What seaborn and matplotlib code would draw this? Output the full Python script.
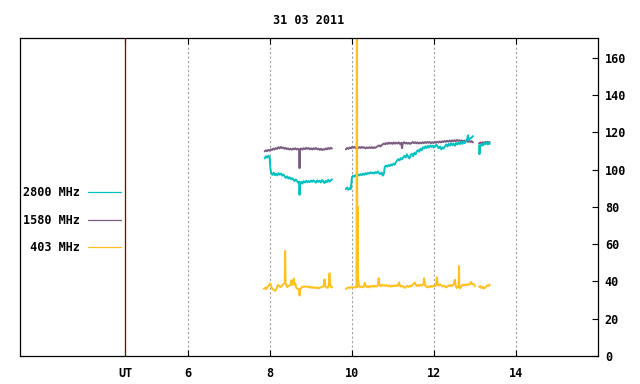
import numpy as np
import pandas as pd
import matplotlib
matplotlib.use("Agg")
import matplotlib.pyplot as plt
from matplotlib.lines import Line2D
import seaborn as sns

# ---- data (hours UT / flux), None marks a gap in the record ----
TITLE = "31 03 2011"

hours_2800 = [
    7.87, 7.90, 7.93, 7.96, 7.99, 8.01, 8.03, 8.06, 8.09, 8.12, 8.15, 8.18, 8.21, 8.24, 8.27,
    8.30, 8.33, 8.36, 8.39, 8.42, 8.45, 8.48, 8.51, 8.54, 8.57, 8.60, 8.63, 8.66, 8.69, 8.71,
    8.72, 8.73, 8.76, 8.79, 8.82, 8.85, 8.88, 8.91, 8.94, 8.97, 9.00, 9.03, 9.06, 9.09, 9.12,
    9.15, 9.18, 9.21, 9.24, 9.27, 9.30, 9.33, 9.36, 9.39, 9.42, 9.45, 9.48, 9.51,
    None,
    9.85, 9.88, 9.91, 9.94, 9.97, 10.00, 10.03, 10.06, 10.09, 10.12, 10.15, 10.18, 10.21, 10.24,
    10.27, 10.30, 10.33, 10.36, 10.39, 10.42, 10.45, 10.48, 10.51, 10.54, 10.57, 10.60, 10.63,
    10.66, 10.69, 10.72, 10.75, 10.78, 10.80, 10.83, 10.86, 10.89, 10.92, 10.95, 10.98, 11.01,
    11.04, 11.07, 11.10, 11.13, 11.16, 11.19, 11.22, 11.25, 11.28, 11.31, 11.34, 11.37, 11.40,
    11.43, 11.46, 11.49, 11.52, 11.55, 11.58, 11.61, 11.64, 11.67, 11.70, 11.73, 11.76, 11.79,
    11.82, 11.85, 11.88, 11.91, 11.94, 11.97, 12.00, 12.03, 12.06, 12.09, 12.12, 12.15, 12.18,
    12.21, 12.24, 12.27, 12.30, 12.33, 12.36, 12.39, 12.42, 12.45, 12.48, 12.51, 12.54, 12.57,
    12.60, 12.63, 12.66, 12.69, 12.72, 12.75, 12.78, 12.81, 12.83, 12.85, 12.88, 12.92, 12.95,
    None,
    13.10, 13.11, 13.13, 13.16, 13.19, 13.22, 13.25, 13.28, 13.31, 13.34, 13.36,
]
flux_2800 = [
    106.0, 107.2, 106.4, 107.5, 106.8, 100.5, 98.0, 97.2, 98.4, 97.0, 97.8, 96.9, 98.1, 97.3, 97.9,
    96.8, 97.4, 96.2, 95.6, 96.4, 95.2, 95.9, 94.8, 95.5, 94.6, 93.9, 94.7, 93.8, 92.9, 93.6,
    86.5, 92.8, 93.4, 92.5, 93.8, 93.1, 94.0, 93.2, 93.9, 93.3, 94.1, 93.5, 94.3, 93.6, 93.0,
    94.2, 93.4, 94.0, 93.1, 94.4, 93.6, 92.8, 94.0, 93.3, 94.6, 93.5, 94.2, 94.8,
    None,
    89.5, 90.4, 89.2, 90.1, 89.6, 96.0, 96.8, 96.2, 97.1, 96.5, 97.4, 96.9, 97.6, 97.0,
    97.9, 97.2, 98.1, 97.5, 98.3, 97.8, 98.6, 98.0, 98.4, 97.9, 98.7, 98.2, 99.0,
    98.1, 97.6, 98.5, 96.8, 97.9, 101.5, 102.2, 101.6, 102.5, 101.9, 102.8, 102.3, 103.2,
    102.6, 104.0, 104.8, 105.6, 104.9, 106.2, 105.5, 106.6, 107.4, 106.5, 108.2, 107.0, 106.0,
    107.8, 108.5, 107.2, 109.0, 108.2, 109.8, 110.5, 109.6, 111.2, 110.4, 112.0, 111.3, 112.5,
    111.6, 112.8, 111.9, 113.0, 112.2, 112.9, 111.8, 112.6, 113.4, 112.3, 111.5, 112.4, 110.8,
    112.0, 111.3, 112.6, 113.5, 112.4, 113.8, 112.9, 114.2, 113.1, 113.9, 112.8, 114.3, 113.5,
    114.6, 113.7, 114.9, 113.8, 115.0, 114.2, 115.6, 116.4, 118.4, 115.8, 116.6, 117.2, 118.0,
    None,
    113.0, 108.3, 112.5, 113.8, 112.9, 114.3, 113.5, 114.6, 113.6, 114.4, 113.8,
]

hours_1580 = [
    7.87, 7.90, 7.93, 7.96, 7.99, 8.02, 8.05, 8.08, 8.11, 8.14, 8.17, 8.20, 8.23, 8.26, 8.29,
    8.32, 8.35, 8.38, 8.41, 8.44, 8.47, 8.50, 8.53, 8.56, 8.59, 8.62, 8.65, 8.68, 8.71, 8.72,
    8.73, 8.76, 8.79, 8.82, 8.85, 8.88, 8.91, 8.94, 8.97, 9.00, 9.03, 9.06, 9.09, 9.12, 9.15,
    9.18, 9.21, 9.24, 9.27, 9.30, 9.33, 9.36, 9.39, 9.42, 9.45, 9.48, 9.51,
    None,
    9.85, 9.88, 9.91, 9.94, 9.97, 10.00, 10.03, 10.06, 10.09, 10.12, 10.15, 10.18, 10.21, 10.24,
    10.27, 10.30, 10.33, 10.36, 10.39, 10.42, 10.45, 10.48, 10.51, 10.54, 10.57, 10.60, 10.63,
    10.66, 10.69, 10.72, 10.75, 10.78, 10.81, 10.84, 10.87, 10.90, 10.93, 10.96, 10.99, 11.02,
    11.05, 11.08, 11.11, 11.14, 11.17, 11.20, 11.22, 11.24, 11.27, 11.30, 11.33, 11.36, 11.39,
    11.42, 11.45, 11.48, 11.51, 11.54, 11.57, 11.60, 11.63, 11.66, 11.69, 11.72, 11.75, 11.78,
    11.81, 11.84, 11.87, 11.90, 11.93, 11.96, 11.99, 12.02, 12.05, 12.08, 12.11, 12.14, 12.17,
    12.20, 12.23, 12.26, 12.29, 12.32, 12.35, 12.38, 12.41, 12.44, 12.47, 12.50, 12.53, 12.56,
    12.59, 12.62, 12.65, 12.68, 12.71, 12.74, 12.77, 12.80, 12.83, 12.86, 12.89, 12.92, 12.95,
    None,
    13.10, 13.13, 13.16, 13.19, 13.22, 13.25, 13.28, 13.31, 13.34, 13.36,
]
flux_1580 = [
    109.8, 110.4, 109.9, 110.6, 110.2, 110.9, 110.5, 111.3, 110.8, 111.6, 111.1, 112.0, 111.4, 112.2, 111.5,
    111.9, 111.2, 111.7, 111.0, 111.4, 110.8, 111.2, 110.7, 111.3, 110.9, 111.5, 110.8, 111.2, 110.6, 100.8,
    110.9, 111.4, 110.7, 111.5, 111.0, 111.7, 111.1, 111.6, 110.9, 111.4, 110.8, 111.5, 111.0, 111.6, 110.9,
    111.3, 110.6, 111.2, 110.5, 111.0, 110.7, 111.4, 110.9, 111.6, 111.1, 111.7, 111.3,
    None,
    110.9, 111.6, 111.2, 111.9, 111.4, 112.1, 111.7, 112.2, 111.6, 112.0, 111.5, 112.1, 111.6, 112.2,
    111.7, 112.0, 111.4, 111.9, 111.5, 112.0, 111.6, 112.1, 111.5, 112.0, 111.7, 112.2, 112.6,
    113.0, 112.4, 113.1, 113.6, 114.0, 113.6, 114.3, 113.8, 114.5, 113.9, 114.4, 113.8, 114.6,
    113.9, 114.5, 114.0, 114.6, 113.8, 114.4, 111.5, 114.2, 114.7, 114.0, 114.5, 113.9, 114.4,
    113.8, 114.3, 114.8, 114.2, 114.7, 114.1, 114.6, 114.0, 114.5, 114.1, 114.7, 114.2, 114.8,
    114.3, 114.9, 114.4, 114.8, 114.2, 114.7, 114.3, 114.9, 114.4, 115.0, 114.5, 115.1, 114.6,
    115.2, 114.8, 115.4, 114.9, 115.5, 115.0, 115.6, 115.1, 115.7, 115.2, 115.8, 115.3, 115.9,
    115.4, 115.8, 115.3, 115.7, 115.1, 115.6, 115.0, 115.5, 114.9, 115.4, 114.8, 115.3, 114.6,
    None,
    114.0, 114.6, 114.1, 114.7, 114.2, 114.8, 114.3, 114.9, 114.4, 114.7,
]

hours_403 = [
    7.85, 7.88, 7.91, 7.94, 7.97, 8.00, 8.02, 8.04, 8.07, 8.10, 8.13, 8.16, 8.19, 8.22, 8.25,
    8.28, 8.31, 8.34, 8.36, 8.37, 8.38, 8.40, 8.42, 8.44, 8.47, 8.50, 8.52, 8.54, 8.56, 8.58,
    8.60, 8.62, 8.64, 8.67, 8.70, 8.72, 8.74, 8.77, 8.80, 8.83, 8.86, 8.89, 8.92, 8.95, 8.98,
    9.01, 9.04, 9.07, 9.10, 9.13, 9.16, 9.19, 9.22, 9.25, 9.28, 9.31, 9.33, 9.35, 9.38, 9.41,
    9.43, 9.45, 9.47, 9.49, 9.52,
    None,
    9.85, 9.88, 9.91, 9.94, 9.97, 10.00, 10.03, 10.06, 10.09, 10.11, 10.12, 10.13, 10.14, 10.15,
    10.17, 10.20, 10.23, 10.26, 10.29, 10.31, 10.33, 10.36, 10.39, 10.42, 10.45, 10.48, 10.51,
    10.54, 10.57, 10.60, 10.63, 10.65, 10.67, 10.70, 10.73, 10.76, 10.79, 10.82, 10.85, 10.88,
    10.91, 10.94, 10.97, 11.00, 11.03, 11.06, 11.09, 11.12, 11.15, 11.17, 11.20, 11.23, 11.26,
    11.29, 11.32, 11.35, 11.38, 11.41, 11.44, 11.47, 11.50, 11.53, 11.56, 11.59, 11.62, 11.65,
    11.68, 11.71, 11.74, 11.76, 11.78, 11.81, 11.84, 11.87, 11.90, 11.93, 11.96, 11.99, 12.02,
    12.05, 12.07, 12.09, 12.12, 12.15, 12.18, 12.21, 12.24, 12.27, 12.30, 12.33, 12.36, 12.39,
    12.42, 12.45, 12.48, 12.51, 12.53, 12.55, 12.58, 12.60, 12.61, 12.62, 12.64, 12.67, 12.70,
    12.73, 12.76, 12.79, 12.82, 12.85, 12.88, 12.91, 12.93, 12.97, 13.00,
    None,
    13.10, 13.13, 13.16, 13.19, 13.22, 13.25, 13.28, 13.31, 13.34, 13.36,
]
flux_403 = [
    36.0, 36.6, 35.9, 37.2, 37.8, 39.0, 38.2, 36.5, 35.8, 35.3, 35.0, 36.2, 38.1, 37.6, 37.0,
    37.4, 38.2, 38.8, 39.4, 56.4, 39.0, 37.8, 36.9, 37.4, 37.8, 38.0, 40.6, 38.2, 39.4, 41.5,
    38.0, 38.8, 36.5, 36.2, 35.9, 32.4, 35.8, 36.9, 37.3, 37.0, 37.4, 37.1, 37.3, 36.8, 37.2,
    36.6, 36.9, 36.5, 36.9, 36.4, 36.8, 36.2, 36.7, 36.9, 37.2, 37.6, 41.2, 37.3, 36.8, 36.6,
    37.5, 44.4, 38.5, 36.9, 36.8,
    None,
    36.0, 36.4, 36.8, 36.5, 37.0, 36.8, 36.9, 36.7, 37.0, 36.8, 250.0, 37.2, 80.0, 41.2,
    37.5, 37.0, 37.4, 36.8, 37.3, 39.3, 37.6, 37.0, 37.5, 36.8, 37.6, 37.2, 37.8,
    37.1, 37.6, 37.3, 37.9, 41.7, 38.2, 37.5, 38.3, 37.8, 38.1, 37.6, 38.0, 37.4,
    37.9, 37.2, 37.7, 37.3, 37.9, 37.4, 38.0, 37.6, 39.5, 37.8, 37.2, 37.7, 37.0,
    36.6, 37.2, 37.6, 37.1, 37.8, 37.3, 38.0, 38.8, 39.4, 38.1, 37.5, 38.2, 37.6,
    38.3, 37.8, 38.4, 41.7, 38.0, 37.3, 36.8, 37.4, 37.0, 37.6, 37.2, 37.8, 37.4,
    38.0, 42.2, 38.4, 37.8, 38.5, 37.9, 37.3, 37.8, 37.2, 36.8, 37.4, 37.9, 37.5,
    38.1, 37.7, 38.3, 41.0, 38.0, 36.5, 37.2, 36.8, 48.3, 37.0, 36.3, 37.5, 38.3,
    37.8, 38.4, 38.0, 38.6, 38.1, 38.7, 39.8, 38.5, 38.6, 37.4,
    None,
    37.0, 37.6, 36.4, 37.2, 36.2, 36.8, 37.4, 38.0, 37.6, 38.3,
]

series_labels = ["2800 MHz", "1580 MHz", "403 MHz"]
series_colors = ["#00c0c0", "#7a5c80", "#ffc020"]

x_tick_pos = [4.47, 6, 8, 10, 12, 14]
x_tick_labels = ["UT", "6", "8", "10", "12", "14"]
grid_hours = [6, 8, 10, 12, 14]
y_ticks = [0, 20, 40, 60, 80, 100, 120, 140, 160]


def to_frame(hours, flux):
    df = pd.DataFrame({"hour": hours, "flux": flux}, dtype=float)
    df["seg"] = df["hour"].isna().cumsum()
    return df.dropna()


sns.set_theme(style="white")
plt.rcParams["font.family"] = ["DejaVu Sans Mono"]
plt.rcParams["font.weight"] = "bold"
plt.rcParams["text.color"] = "black"
plt.rcParams["xtick.color"] = "black"
plt.rcParams["ytick.color"] = "black"
plt.rcParams["lines.scale_dashes"] = True

fig = plt.figure(figsize=(6.4, 3.84), dpi=100)
ax = fig.add_axes([0.03125, 0.0729, 0.903, 0.828])

# dashed grid at the hour ticks, UT marker line
for h in grid_hours:
    ax.axvline(h, color="#a0a0a0", lw=0.8, dashes=(2, 2), zorder=0)
ax.axvline(x_tick_pos[0], color="#7f0000", lw=0.9, zorder=1)

frames = {
    "1580 MHz": to_frame(hours_1580, flux_1580),
    "2800 MHz": to_frame(hours_2800, flux_2800),
    "403 MHz": to_frame(hours_403, flux_403),
}
color_of = dict(zip(series_labels, series_colors))
for name, df in frames.items():
    sns.lineplot(data=df, x="hour", y="flux", units="seg", estimator=None,
                 color=color_of[name], lw=1.4, ax=ax, legend=False)

ax.set_xlim(1.9, 16.0)
ax.set_ylim(0, 170.6)
ax.set_xlabel("")
ax.set_ylabel("")
ax.set_xticks(x_tick_pos)
ax.set_xticklabels(x_tick_labels)
ax.set_yticks(y_ticks)
ax.yaxis.tick_right()
ax.tick_params(axis="x", direction="in", length=4, width=0.8, pad=8,
               labelsize=8.5, top=True, bottom=True, colors="black",
               labelcolor="black")
ax.tick_params(axis="y", direction="in", length=4, width=0.8, pad=5,
               labelsize=8.5, left=False, right=True, colors="black",
               labelcolor="black")
for sp in ax.spines.values():
    sp.set_color("black")
    sp.set_linewidth(0.9)

ax.set_title(TITLE, fontsize=8.5, fontweight="bold", pad=10, color="black")

handles = [Line2D([], [], color=c, lw=0.9) for c in series_colors]
labels = [f"{s:>8}" for s in series_labels]
leg = ax.legend(handles, labels, loc="upper left", bbox_to_anchor=(0.006, 0.535),
                frameon=False, markerfirst=False, borderaxespad=0, borderpad=0,
                handlelength=2.8, handletextpad=0.6, labelspacing=1.25,
                prop={"family": "DejaVu Sans Mono", "weight": "bold", "size": 8.5})
for t in leg.get_texts():
    t.set_color("black")

fig.savefig("out.png", dpi=100)
plt.close(fig)
